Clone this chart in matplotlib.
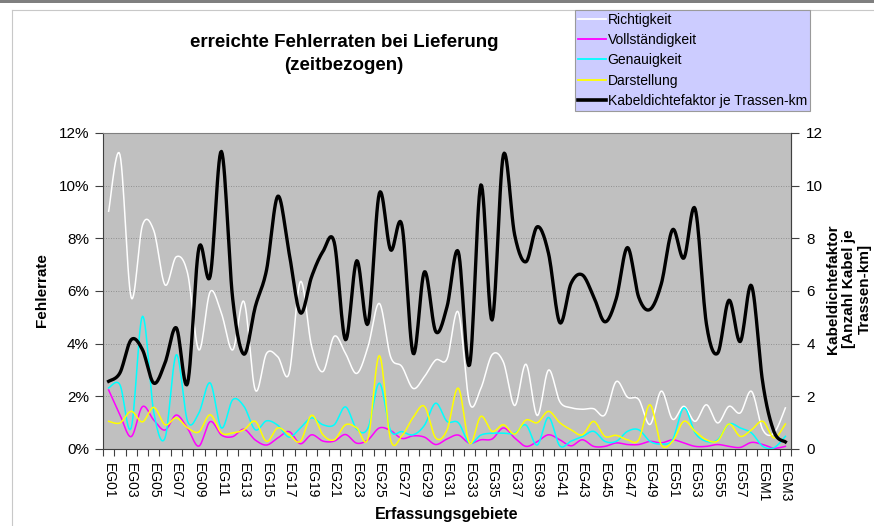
import numpy as np
import matplotlib
matplotlib.use("Agg")
import matplotlib.pyplot as plt
from matplotlib.lines import Line2D
from matplotlib.patches import Rectangle

plt.rcParams['font.family'] = ['Liberation Sans', 'DejaVu Sans']

# ---- data -------------------------------------------------------------
categories = [f"EG{n:02d}" for n in range(1, 59)] + ["EGM1", "EGM2", "EGM3"]

richtigkeit = [9.03, 11.18, 5.75, 8.5, 8.3, 6.23, 7.3, 6.67, 3.76, 5.97,
               5.15, 3.76, 5.6, 2.24, 3.63, 3.5, 2.87, 6.36, 3.89, 2.94,
               4.28, 3.63, 2.87, 3.89, 5.53, 3.5, 3.13, 2.3, 2.75, 3.38,
               3.42, 5.2, 1.75, 2.3, 3.58, 3.3, 1.65, 3.22, 1.27, 3.0,
               1.8, 1.57, 1.51, 1.53, 1.3, 2.56, 1.97, 1.88, 0.93, 2.2,
               1.13, 1.62, 1.05, 1.68, 0.99, 1.62, 1.37, 2.19, 0.73, 0.61,
               1.56]

vollstaendigkeit = [2.24, 1.3, 0.47, 1.61, 1.1, 0.72, 1.29, 0.78, 0.11, 1.04,
                    0.53, 0.47, 0.75, 0.34, 0.15, 0.42, 0.66, 0.2, 0.54, 0.3,
                    0.3, 0.55, 0.22, 0.35, 0.8, 0.7, 0.4, 0.5, 0.45, 0.17,
                    0.38, 0.53, 0.22, 0.35, 0.38, 0.8, 0.42, 0.1, 0.28, 0.54,
                    0.35, 0.12, 0.35, 0.1, 0.1, 0.23, 0.17, 0.17, 0.29, 0.23,
                    0.35, 0.23, 0.1, 0.1, 0.17, 0.1, 0.06, 0.25, 0.17, 0.03,
                    0.1]

genauigkeit = [2.32, 2.44, 0.8, 5.04, 1.4, 0.42, 3.58, 1.05, 1.37, 2.51,
               0.8, 1.87, 1.62, 0.73, 1.07, 0.9, 0.45, 0.8, 1.18, 0.92,
               0.92, 1.6, 0.75, 0.8, 2.5, 0.7, 0.66, 0.54, 0.9, 1.74,
               1.05, 1.0, 0.22, 0.53, 0.6, 0.6, 0.6, 0.91, 0.15, 1.2,
               0.12, 0.3, 0.47, 0.67, 0.29, 0.29, 0.67, 0.73, 0.29, 0.19,
               0.35, 1.56, 0.61, 0.29, 0.35, 0.95, 0.8, 0.61, 0.1, 0.05,
               0.48]

darstellung = [1.05, 0.99, 1.43, 1.03, 1.58, 0.92, 1.18, 0.8, 0.65, 1.3,
               0.61, 0.61, 0.73, 1.05, 0.29, 0.8, 0.54, 0.29, 1.28, 0.54,
               0.35, 0.92, 0.8, 0.4, 3.55, 0.35, 0.5, 1.2, 1.62, 0.42,
               0.72, 2.31, 0.22, 1.24, 0.67, 0.92, 0.57, 1.1, 1.0, 1.43,
               1.0, 0.73, 0.54, 1.05, 0.48, 0.52, 0.35, 0.35, 1.68, 0.16,
               0.29, 1.05, 0.67, 0.35, 0.31, 0.95, 0.48, 0.73, 1.05, 0.42,
               0.95]

kabeldichte = [2.57, 2.89, 4.15, 3.77, 2.5, 3.27, 4.6, 2.5, 7.63, 6.56,
               11.3, 5.7, 3.6, 5.4, 6.8, 9.6, 7.44, 5.17, 6.55, 7.5,
               7.85, 4.15, 7.15, 4.77, 9.71, 7.56, 8.5, 3.63, 6.73, 4.46,
               5.4, 7.49, 3.19, 10.03, 4.9, 11.17, 8.13, 7.11, 8.44, 7.43,
               4.8, 6.29, 6.61, 5.79, 4.83, 5.7, 7.65, 5.76, 5.3, 6.27,
               8.33, 7.25, 9.12, 4.75, 3.64, 5.65, 4.08, 6.2, 2.5, 0.65,
               0.27]

pct_ticks = [0, 2, 4, 6, 8, 10, 12]
pct_labels = ["0%", "2%", "4%", "6%", "8%", "10%", "12%"]
kab_ticks = [0, 2, 4, 6, 8, 10, 12]


def smoothed(values, steps=14):
    """Cubic Bezier curve through every point (smoothed line style)."""
    y = np.asarray(values, float)
    x = np.arange(len(y), dtype=float)
    pts = np.column_stack([x, y])
    n = len(pts)
    out = []
    for k in range(n - 1):
        p0 = pts[max(k - 1, 0)]
        p1 = pts[k]
        p2 = pts[k + 1]
        p3 = pts[min(k + 2, n - 1)]
        c1 = p1 + (p2 - p0) / 6.0
        c2 = p2 - (p3 - p1) / 6.0
        t = np.linspace(0, 1, steps, endpoint=(k == n - 2))[:, None]
        seg = ((1 - t) ** 3) * p1 + 3 * ((1 - t) ** 2) * t * c1 \
            + 3 * (1 - t) * t ** 2 * c2 + t ** 3 * p2
        out.append(seg)
    c = np.vstack(out)
    return c[:, 0], c[:, 1]


# ---- figure -----------------------------------------------------------
W, H = 874, 526
fig = plt.figure(figsize=(W / 100, H / 100), dpi=100)
fig.patch.set_facecolor("white")

# outer frame decoration
fig.add_artist(Rectangle((0, 1 - 3 / H), 1, 3 / H, transform=fig.transFigure,
                         facecolor="#7f7f7f", edgecolor="none"))
fig.add_artist(Line2D([12 / W, 1], [1 - 10 / H, 1 - 10 / H], transform=fig.transFigure,
                      color="#c8c8c8", lw=0.8))
fig.add_artist(Line2D([12 / W, 12 / W], [0, 1 - 10 / H], transform=fig.transFigure,
                      color="#c8c8c8", lw=0.8))

left, right, top, bottom = 103, 791, 133, 449
ax = fig.add_axes([left / W, 1 - bottom / H, (right - left) / W, (bottom - top) / H])
ax.set_facecolor("#c0c0c0")
ax.set_xlim(-0.5, len(categories) - 0.5)
ax.set_ylim(0, 12)

ax2 = ax.twinx()
ax2.set_ylim(0, 12)

# gridlines
for v in pct_ticks[1:-1]:
    ax.axhline(v, color="#808080", lw=0.6, ls=(0, (1, 2)), zorder=0.5)

colored = [
    (richtigkeit, "#ffffff", "Richtigkeit"),
    (vollstaendigkeit, "#ff00ff", "Vollständigkeit"),
    (genauigkeit, "#00ffff", "Genauigkeit"),
    (darstellung, "#ffff00", "Darstellung"),
]
handles = []
for vals, col, name in colored:
    sx, sy = smoothed(vals)
    ax.plot(sx, sy, color=col, lw=1.1, solid_joinstyle="round", zorder=2)
    handles.append(Line2D([], [], color=col, lw=1.3, label=name))

kx, ky = smoothed(kabeldichte)
ax2.plot(kx, ky, color="black", lw=2.4, solid_joinstyle="round", zorder=3)
handles.append(Line2D([], [], color="black", lw=2.6, label="Kabeldichtefaktor je Trassen-km"))

# axes styling
for sp in ax.spines.values():
    sp.set_color("#808080")
    sp.set_linewidth(0.8)
for sp in ax2.spines.values():
    sp.set_visible(False)
ax.spines["left"].set_color("#404040")
ax.spines["bottom"].set_color("#404040")
ax2.spines["right"].set_visible(True)
ax2.spines["right"].set_color("#404040")
ax2.spines["right"].set_linewidth(0.8)

ax.set_yticks(pct_ticks)
ax.set_yticklabels(pct_labels)
ax.tick_params(axis="y", direction="out", length=6, width=0.8, color="#404040",
               labelsize=11, pad=4)
ax2.set_yticks(kab_ticks)
ax2.set_yticklabels([str(v) for v in kab_ticks])
ax2.tick_params(axis="y", direction="out", length=6, width=0.8, color="#404040",
                labelsize=11, pad=5)

xpos = np.arange(len(categories))
ax.set_xticks(xpos[::2])
ax.set_xticklabels(categories[::2], rotation=-90, fontsize=10)
ax.set_xticks(np.arange(-0.5, len(categories), 1), minor=True)
ax.tick_params(axis="x", which="major", length=0, pad=10)
ax.tick_params(axis="x", which="minor", direction="out", length=5, width=0.8, color="#404040")

# titles and axis labels
fig.text(344 / W, 1 - 54 / H, "erreichte Fehlerraten bei Lieferung\n(zeitbezogen)",
         ha="center", va="center", fontsize=13.5, fontweight="bold", linespacing=1.45)
fig.text(42 / W, 1 - 290 / H, "Fehlerrate", rotation=90, ha="center", va="center",
         fontsize=11, fontweight="bold")
fig.text(849 / W, 1 - 289 / H, "Kabeldichtefaktor\n[Anzahl Kabel je\nTrassen-km]",
         rotation=90, ha="center", va="center", fontsize=11, fontweight="bold",
         linespacing=1.15, multialignment="center")
fig.text(447 / W, 1 - 514 / H, "Erfassungsgebiete", ha="center", va="center",
         fontsize=11.5, fontweight="bold")

leg = fig.legend(handles=handles, loc="upper left",
                 bbox_to_anchor=(575 / W, 1 - 10 / H), bbox_transform=fig.transFigure,
                 fontsize=10, frameon=True, fancybox=False, facecolor="#ccccff",
                 edgecolor="#9a9a9a", framealpha=1, borderpad=0.2, labelspacing=0.45,
                 handlelength=2.0, handletextpad=0.15, borderaxespad=0)
leg.get_frame().set_linewidth(0.8)

fig.savefig("out.png", dpi=100)
